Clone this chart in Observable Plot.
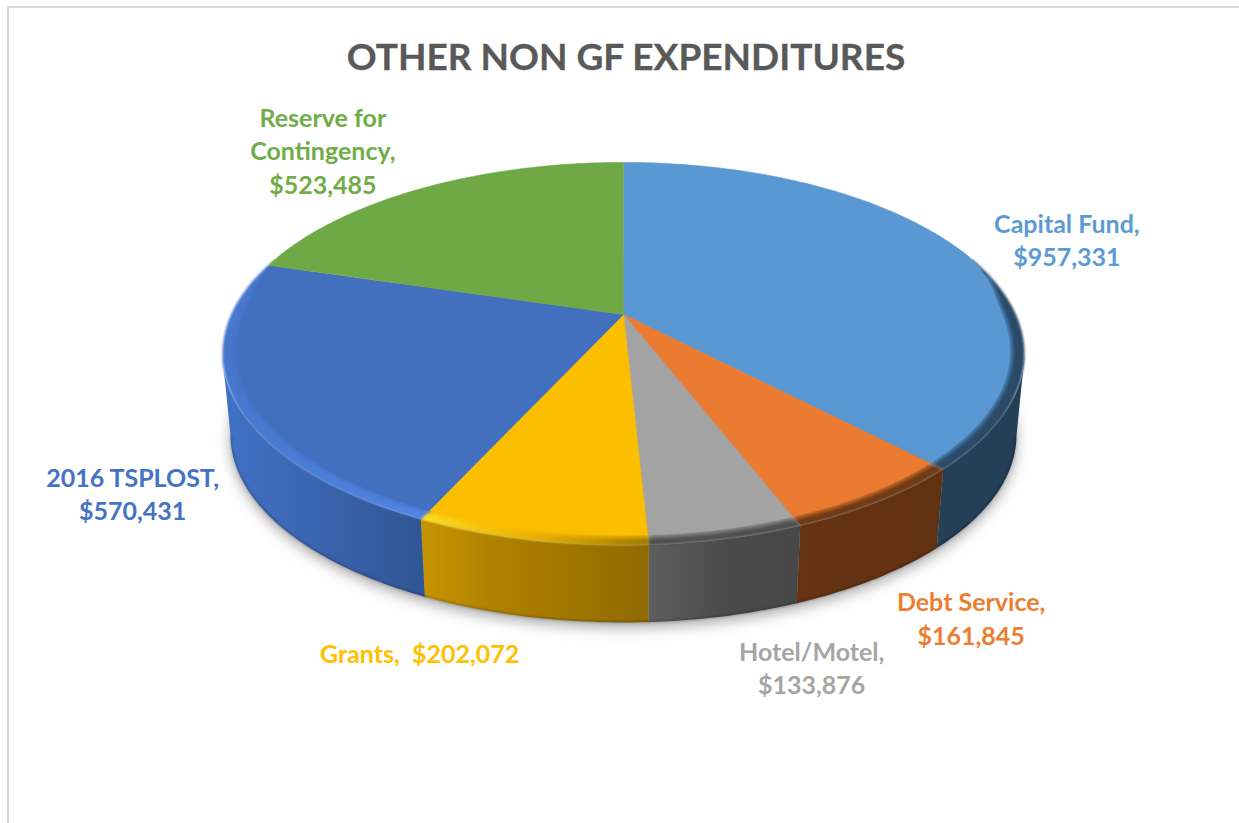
<!DOCTYPE html>
<html>
<head>
<meta charset="utf-8">
<script src="https://cdn.jsdelivr.net/npm/d3@7"></script>
<script src="https://cdn.jsdelivr.net/npm/@observablehq/plot@0.6"></script>
<style>
  html, body { margin: 0; padding: 0; background: #fff; }
  #page { position: relative; width: 1239px; height: 823px; overflow: hidden; }
  #edgeTop { position: absolute; left: 7px; right: 0; top: 6px; height: 2px; background: #d9d9d9; }
  #edgeLeft { position: absolute; left: 7px; top: 6px; bottom: 0; width: 2px; background: #d9d9d9; }
  h1 { position: absolute; left: 0; width: 1252px; top: 32px; margin: 0; text-align: center;
       font: 700 37px/48px Lato, sans-serif; color: #595959; -webkit-text-stroke: 0.3px #595959; }
  svg { position: absolute; left: 0; top: 0; }
</style>
</head>
<body>
<div id="page">
  <div id="edgeTop"></div>
  <div id="edgeLeft"></div>
  <h1>OTHER NON GF EXPENDITURES</h1>
</div>
<script>
// ---- data ----
const categories = ["Capital Fund", "Debt Service", "Hotel/Motel", "Grants", "2016 TSPLOST", "Reserve for Contingency"];
const values = [957331, 161845, 133876, 202072, 570431, 523485];
const labelTexts = [
  "Capital Fund,\n$957,331",
  "Debt Service,\n$161,845",
  "Hotel/Motel,\n$133,876",
  "Grants,  $202,072",
  "2016 TSPLOST,\n$570,431",
  "Reserve for\nContingency,\n$523,485"
];

// ---- styles ----
const labelColors = ["#5b9bd5", "#ed7d31", "#a5a5a5", "#ffc000", "#4472c4", "#70ad47"];
const flatColors = ["#5a98d4", "#ea7b30", "#a3a3a3", "#fcbe00", "#4270bf", "#6fa945"];
const wallStops = [
  [["0", "#243f57"], ["1", "#243f57"]],
  [["0", "#663413"], ["1", "#603112"]],
  [["0", "#5e5e5e"], ["0.5", "#4b4b4b"], ["1", "#474747"]],
  [["0", "#c89400"], ["0.3", "#b08200"], ["1", "#8f6a00"]],
  [["0", "#4172c6"], ["0.5", "#3a63ad"], ["1", "#2f5593"]],
  [["0", "#70ad47"], ["1", "#70ad47"]]
];
const rimStops = [
  [["0", "#2a4a68"], ["1", "#2a4a68"]],
  [["0", "#6f3a15"], ["1", "#6f3a15"]],
  [["0", "#505050"], ["1", "#505050"]],
  [["0", "#ffdc20"], ["0.5", "#e8b000"], ["1", "#a07a00"]],
  [["0", "#4876cc"], ["0.4", "#4a7fd9"], ["1", "#4f88e8"]],
  [["0", "#70ad47"], ["1", "#70ad47"]]
];
const labelOffsets = [[107, -11], [87, 118], [82, 128], [-108, 112], [-100, 96], [-98, -39]];

// ---- layout of the tilted disc ----
const width = 1239, height = 823;
const disc = {cx: 623, topY: 314, footY: 395.6, foot: 0.98, A: 392.4, B: 183.4, k: 0.206, warp: 0.015};
const DEG = Math.PI / 180;

function project(angle, r, isFoot, warp = disc.warp) {
  const theta = angle - warp * Math.sin(2 * angle);
  const s = r * Math.sin(theta), c = r * Math.cos(theta), d = 1 + disc.k * c, f = isFoot ? disc.foot : 1;
  return {x: disc.cx + f * disc.A * s / d, y: (isFoot ? disc.footY : disc.topY) - f * disc.B * c / d};
}
function arc(a, b, r, isFoot) {
  const n = Math.max(2, Math.ceil(Math.abs(b - a) / DEG)), pts = [];
  for (let i = 0; i <= n; ++i) {
    const t = a + (b - a) * i / n;
    pts.push(project(t, typeof r === "function" ? r(t) : r, isFoot));
  }
  return pts;
}
const smooth = (v) => { v = Math.max(0, Math.min(1, v)); return v * v * (3 - 2 * v); };
const flatR = (t) => 0.965 + 0.035 * smooth(Math.cos(t) / 0.35);

const slices = d3.pie().sort(null).value((d) => d)(values).map((p, i) => ({
  i, name: categories[i], a: p.startAngle, b: p.endAngle, mid: (p.startAngle + p.endAngle) / 2
}));

const frontA = 102 * DEG, frontB = 258 * DEG;
const rimA = 72 * DEG, rimB = 288 * DEG, softA = 78 * DEG, softB = 280 * DEG;

function defsMark() {
  const defs = d3.create("svg:defs");
  const add = (id, stops) => {
    const g = defs.append("linearGradient").attr("id", id);
    stops.forEach(([o, c]) => g.append("stop").attr("offset", o).attr("stop-color", c));
  };
  wallStops.forEach((s, i) => add("wall" + i, s));
  rimStops.forEach((s, i) => add("rim" + i, s));
  return defs.node();
}

const line = (pts, o) => Plot.line(pts, {x: "x", y: "y", ...o});
const blur = (px) => (index, scales, values, dims, context, next) => {
  const g = next(index, scales, values, dims, context);
  g.style.filter = `blur(${px}px)`;
  return g;
};

const footWhole = arc(0, 2 * Math.PI, 1, true);
const walls = [], rims = [], softs = [], flats = [], feet = [];
for (const s of slices) {
  const wa = Math.max(s.a, frontA), wb = Math.min(s.b, frontB);
  if (wb > wa) {
    walls.push(line([...arc(wa, wb, 1, false), ...arc(wb, wa, 1, true)], {fill: `url(#wall${s.i})`, stroke: "none"}));
    feet.push(line(arc(wa, wb, 0.999, true), {stroke: "#000", strokeOpacity: 0.22, strokeWidth: 2, render: blur(1)}));
  }
  const ra = Math.max(s.a, rimA), rb = Math.min(s.b, rimB);
  if (rb > ra) rims.push(line([...arc(ra, rb, 1, false), ...arc(rb, ra, 0.9, false)], {fill: `url(#rim${s.i})`, stroke: "none", render: blur(1.2)}));
  const sa = Math.max(s.a, softA), sb = Math.min(s.b, softB);
  if (sb > sa) softs.push(line(arc(sa, sb, flatR, false), {stroke: flatColors[s.i], strokeWidth: 4, render: blur(2)}));
  flats.push(line([{x: disc.cx, y: disc.topY}, ...arc(s.a, s.b, flatR, false)], {fill: flatColors[s.i], stroke: flatColors[s.i], strokeWidth: 0.6}));
}

const labelRows = slices.map((s) => ({...project(s.mid, 1, false, 0), i: s.i}));
const labels = labelRows.map((d) => Plot.text([d], {
  x: "x", y: "y", text: () => labelTexts[d.i],
  dx: labelOffsets[d.i][0], dy: labelOffsets[d.i][1],
  fill: labelColors[d.i], fontWeight: 700, fontSize: 25, lineHeight: 1.34,
  fontFamily: "Lato, sans-serif", textAnchor: "middle"
}));

const chart = Plot.plot({
  width, height,
  margin: 0,
  x: {domain: [0, width], range: [0, width], axis: null},
  y: {domain: [0, height], range: [0, height], axis: null},
  marks: [
    defsMark,
    line(footWhole.map((p) => ({x: p.x, y: p.y + 5})), {fill: "#a8a8a8", stroke: "none", render: blur(7)}),
    ...walls, ...feet, ...rims, ...softs, ...flats, ...labels
  ]
});
chart.style.background = "transparent";
document.getElementById("page").appendChild(chart);
</script>
</body>
</html>
